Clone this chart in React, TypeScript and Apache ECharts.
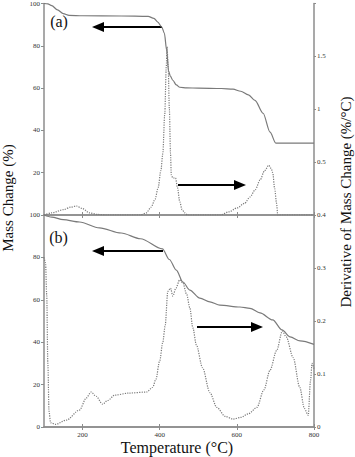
import React, { useEffect, useRef } from "react";
import * as echarts from "echarts";

// Panel (a): mass change (%) vs temperature (°C)
const massA: [number, number][] = [
  [100, 100], [110, 99.8], [120, 99], [135, 97], [150, 95.2], [165, 94.4], [200, 94.2],
  [300, 94.1], [370, 93.9], [385, 93], [395, 91.2], [405, 89], [412, 86], [418, 78],
  [423, 68], [428, 65.5], [434, 63.7], [443, 61.5], [452, 60.4], [470, 60.1], [500, 60],
  [560, 59.8], [590, 59.5], [610, 58.5], [630, 56.8], [647, 54.2], [668, 48.1],
  [686, 39.2], [701, 34], [800, 34],
];
// Panel (a): derivative of mass change (%/°C)
const derivA: [number, number][] = [
  [100, 0], [120, 0.02], [150, 0.05], [170, 0.075], [184, 0.085], [200, 0.06], [218, 0.02],
  [240, 0.005], [260, 0], [350, 0], [365, 0.02], [378, 0.075], [388, 0.15], [396, 0.26],
  [403, 0.42], [408, 0.58], [413, 0.95], [417, 1.4], [419, 1.59], [422, 1.4], [425, 1.0],
  [428, 0.58], [430, 0.38], [434, 0.35], [441, 0.35], [446, 0.26], [452, 0.125],
  [458, 0.05], [465, 0.02], [472, 0], [556, 0], [580, 0.03], [600, 0.066], [620, 0.11],
  [634, 0.17], [648, 0.24], [660, 0.33], [672, 0.42], [683, 0.47], [689, 0.44],
  [693, 0.4], [698, 0.25], [703, 0.11], [706, 0], [800, 0],
];
// Panel (b): mass change (%)
const massB: [number, number][] = [
  [100, 100], [120, 99], [150, 97.8], [192, 96.7], [244, 93.9], [300, 91.5], [350, 88.8],
  [407, 84], [425, 79], [443, 74], [460, 68.4], [478, 64.6], [504, 60.8], [530, 59],
  [556, 57.5], [608, 56.6], [634, 56], [660, 53.8], [693, 50.5], [717, 45.8],
  [738, 42.5], [764, 40.6], [800, 39],
];
// Panel (b): derivative of mass change (%/°C)
const derivB: [number, number][] = [
  [100, 0.32], [104, 0.31], [107, 0.25], [110, 0.12], [113, 0.03], [117, 0.008],
  [130, 0.005], [158, 0.013], [192, 0.032], [210, 0.055], [222, 0.066], [235, 0.058],
  [252, 0.043], [265, 0.05], [283, 0.06], [320, 0.064], [366, 0.066], [382, 0.075],
  [390, 0.09], [400, 0.125], [408, 0.16], [414, 0.19], [421, 0.256], [428, 0.262],
  [434, 0.247], [442, 0.262], [452, 0.278], [460, 0.272], [470, 0.25], [478, 0.225],
  [486, 0.187], [495, 0.155], [511, 0.112], [530, 0.065], [548, 0.037], [570, 0.02],
  [590, 0.015], [610, 0.018], [630, 0.025], [652, 0.037], [670, 0.07], [686, 0.107],
  [703, 0.144], [718, 0.181], [728, 0.17], [746, 0.131], [763, 0.075], [775, 0.035],
  [785, 0.022], [791, 0.088], [795, 0.12], [800, 0.11],
];

const xTicks = [200, 400, 600, 800];
const xLabel = "Temperature (°C)";
const yLeftLabel = "Mass Change (%)";
const yRightLabel = "Derivative of Mass Change (%/°C)";

const AXIS_COLOR = "#8c8c8c";
const LINE_COLOR = "#7a7a7a";
const FONT = "serif";

export default function App() {
  const ref = useRef<HTMLDivElement>(null);
  useEffect(() => {
    if (!ref.current) return;
    const chart = echarts.init(ref.current, undefined, { renderer: "svg" });
    const axisLine = { show: true, lineStyle: { color: AXIS_COLOR, width: 1.5 } };
    const tickLbl = { fontFamily: FONT, fontSize: 7, color: "#333333" };
    const fmt = (v: number) => String(+v.toFixed(2));
    const xBase = {
      type: "value" as const,
      min: 100,
      max: 800,
      splitLine: { show: false },
      axisLine,
      axisTick: { show: true, inside: true, length: 3, customValues: xTicks, lineStyle: { color: AXIS_COLOR } },
    };
    const arrow = (x1: number, x2: number, y: number) => {
      const dir = x2 > x1 ? 1 : -1;
      const hl = 12;
      return [
        { type: "line", shape: { x1, y1: y, x2: x2 - dir * hl + dir, y2: y }, style: { stroke: "#000", lineWidth: 2.2 } },
        { type: "polygon", shape: { points: [[x2, y], [x2 - dir * hl, y - 5], [x2 - dir * hl, y + 5]] }, style: { fill: "#000" } },
      ];
    };
    const txt = (x: number, y: number, text: string, size: number, rotation = 0) => ({
      type: "text", x, y, rotation,
      style: { text, font: `${size}px ${FONT}`, fill: "#111111", align: "center", verticalAlign: "middle" },
    });
    chart.setOption({
      animation: false,
      backgroundColor: "#fff",
      textStyle: { fontFamily: FONT },
      grid: [
        { left: 44, width: 270, top: 3, height: 212 },
        { left: 44, width: 270, top: 215, height: 212 },
      ],
      xAxis: [
        { ...xBase, gridIndex: 0, position: "bottom", axisLabel: { show: false } },
        { ...xBase, gridIndex: 0, position: "top", axisLabel: { show: false } },
        { ...xBase, gridIndex: 1, position: "bottom", axisLabel: { ...tickLbl, margin: 4, customValues: xTicks } },
        { ...xBase, gridIndex: 1, position: "top", axisLabel: { show: false } },
      ],
      yAxis: [
        {
          type: "value", gridIndex: 0, position: "left", min: 0, max: 100, interval: 20,
          splitLine: { show: false }, axisLine,
          axisTick: { show: true, length: 3, lineStyle: { color: AXIS_COLOR } },
          axisLabel: { ...tickLbl, margin: 4, formatter: (v: number) => (v === 0 ? "" : fmt(v)) },
        },
        {
          type: "value", gridIndex: 0, position: "right", min: 0, max: 2, interval: 0.5,
          splitLine: { show: false }, axisLine,
          axisTick: { show: true, length: 2, lineStyle: { color: AXIS_COLOR } },
          axisLabel: { ...tickLbl, margin: 3, formatter: (v: number) => (v === 0 || v === 2 ? "" : fmt(v)) },
        },
        {
          type: "value", gridIndex: 1, position: "left", min: 0, max: 100, interval: 20,
          splitLine: { show: false }, axisLine,
          axisTick: { show: true, length: 3, lineStyle: { color: AXIS_COLOR } },
          axisLabel: { ...tickLbl, margin: 4, formatter: fmt },
        },
        {
          type: "value", gridIndex: 1, position: "right", min: 0, max: 0.4, interval: 0.1,
          splitLine: { show: false }, axisLine,
          axisTick: { show: true, length: 2, lineStyle: { color: AXIS_COLOR } },
          axisLabel: { ...tickLbl, margin: 3, formatter: fmt },
        },
      ],
      series: [
        {
          type: "line", xAxisIndex: 0, yAxisIndex: 0, data: massA, showSymbol: false,
          smooth: 0.3, smoothMonotone: "x", lineStyle: { color: LINE_COLOR, width: 1.2 },
        },
        {
          type: "line", xAxisIndex: 0, yAxisIndex: 1, data: derivA, showSymbol: false,
          smooth: 0.3, smoothMonotone: "x", lineStyle: { color: LINE_COLOR, width: 1.2, type: "dotted" },
        },
        {
          type: "line", xAxisIndex: 2, yAxisIndex: 2, data: massB, showSymbol: false,
          smooth: 0.3, smoothMonotone: "x", lineStyle: { color: LINE_COLOR, width: 1.2 },
        },
        {
          type: "line", xAxisIndex: 2, yAxisIndex: 3, data: derivB, showSymbol: false,
          smooth: 0.3, smoothMonotone: "x", lineStyle: { color: LINE_COLOR, width: 1.2, type: "dotted" },
        },
      ],
      graphic: [
        ...arrow(162, 92, 27),
        ...arrow(178, 246, 185),
        ...arrow(163, 92, 251),
        ...arrow(197, 263, 327),
        txt(59, 21, "(a)", 16),
        txt(58.5, 237, "(b)", 16),
        txt(8, 198, yLeftLabel, 15, Math.PI / 2),
        txt(346, 202, yRightLabel, 15, Math.PI / 2),
        txt(177, 447, xLabel, 16),
      ],
    });
    return () => chart.dispose();
  }, []);
  return <div ref={ref} style={{ position: "fixed", left: 0, top: 0, width: 355, height: 457 }} />;
}
